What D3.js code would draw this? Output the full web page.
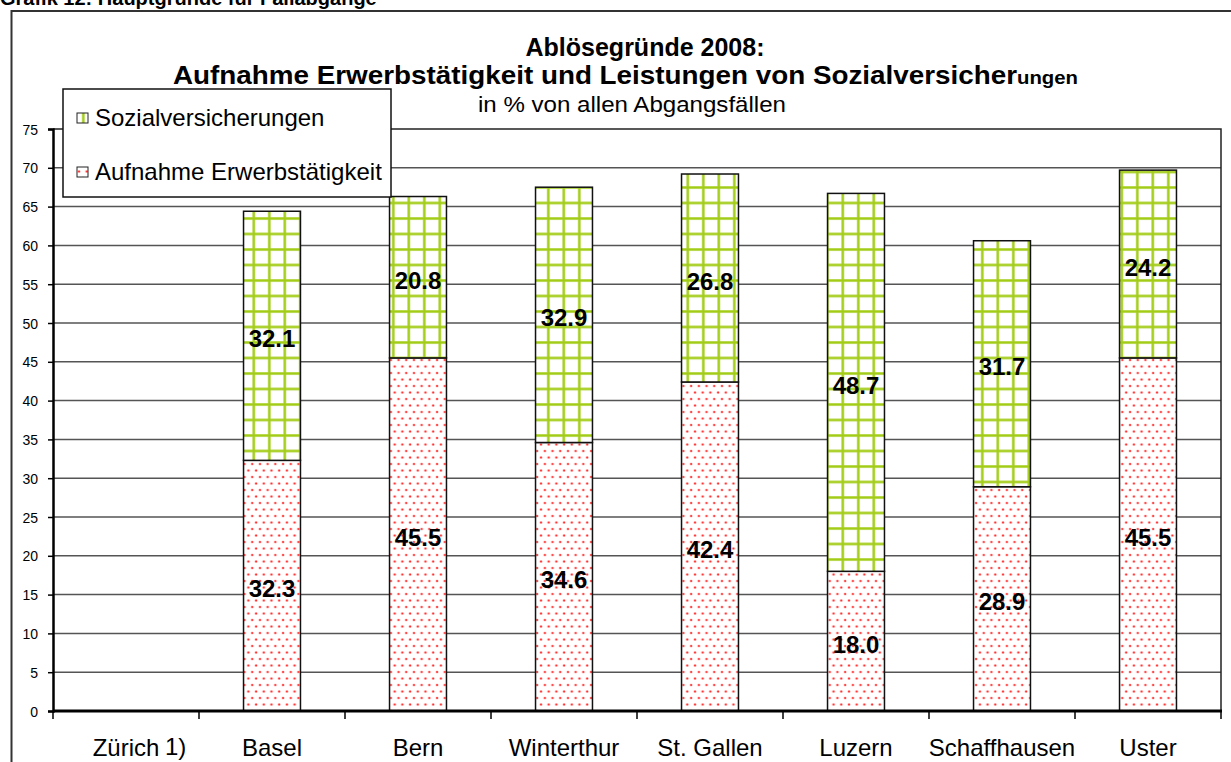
<!DOCTYPE html>
<html>
<head>
<meta charset="utf-8">
<script src="https://cdn.jsdelivr.net/npm/d3@7"></script>
<style>
  html, body { margin: 0; padding: 0; background: #fff; }
  svg { display: block; }
  text { font-family: "Liberation Sans", Arial, sans-serif; }
</style>
</head>
<body>
<svg id="chart" width="1231" height="762"></svg>
<script>
// ---- data ----
const categories = ["Zürich", "Basel", "Bern", "Winterthur", "St. Gallen", "Luzern", "Schaffhausen", "Uster"];
const categoryNotes = ["1)", "", "", "", "", "", "", ""];
const erwerbstaetigkeit = [null, 32.3, 45.5, 34.6, 42.4, 18.0, 28.9, 45.5];
const sozialversicherungen = [null, 32.1, 20.8, 32.9, 26.8, 48.7, 31.7, 24.2];
const seriesNames = ["Aufnahme Erwerbstätigkeit", "Sozialversicherungen"];
const yTicks = [0, 5, 10, 15, 20, 25, 30, 35, 40, 45, 50, 55, 60, 65, 70, 75];
const pageTitle = "Grafik 12: Hauptgründe für Fallabgänge";
const titleLine1 = "Ablösegründe 2008:";
const titleLine2 = "Aufnahme Erwerbstätigkeit und Leistungen von Sozialversicher";
const titleLine2Tail = "ungen";
const subtitle = "in % von allen Abgangsfällen";

// ---- layout ----
const svg = d3.select("#chart");
const plot = { left: 53, right: 1221, top: 129, bottom: 711 };

const x = d3.scaleBand().domain(categories)
  .range([plot.left, plot.right]).paddingInner(0.61).paddingOuter(0.305);
const y = d3.scaleLinear().domain([0, 75]).range([plot.bottom, plot.top]);
const step = (plot.right - plot.left) / categories.length;

// patterns
const defs = svg.append("defs");
const pg = defs.append("pattern").attr("id", "grid").attr("patternUnits", "userSpaceOnUse")
  .attr("width", 15.5).attr("height", 15.5).attr("x", 4.3).attr("y", 0);
pg.append("rect").attr("width", 15.5).attr("height", 15.5).attr("fill", "#fff");
pg.append("rect").attr("x", 0).attr("y", 0).attr("width", 3).attr("height", 15.5).attr("fill", "#cfe68a");
pg.append("rect").attr("x", 0).attr("y", 0).attr("width", 15.5).attr("height", 3).attr("fill", "#cfe68a");
pg.append("rect").attr("x", 0.5).attr("y", 0).attr("width", 2).attr("height", 15.5).attr("fill", "#a2cc14");
pg.append("rect").attr("x", 0).attr("y", 0.5).attr("width", 15.5).attr("height", 2).attr("fill", "#a2cc14");

const pd = defs.append("pattern").attr("id", "dots").attr("patternUnits", "userSpaceOnUse")
  .attr("width", 7.7).attr("height", 13).attr("x", 0).attr("y", 0);
pd.append("rect").attr("width", 7.7).attr("height", 13).attr("fill", "#fff");
[[2, 2.5], [5.85, 9]].forEach(([cx, cy]) => {
  pd.append("circle").attr("cx", cx).attr("cy", cy).attr("r", 1.6).attr("fill", "#ffc4c4");
  pd.append("circle").attr("cx", cx).attr("cy", cy).attr("r", 1.0).attr("fill", "#ff3030");
});
const fills = ["url(#dots)", "url(#grid)"];

// page title (cropped at top, as in the reference)
svg.append("text").attr("x", 0).attr("y", 5).attr("font-size", 20).attr("font-weight", "bold")
  .attr("fill", "#000").text(pageTitle);

// outer frame
svg.append("rect").attr("x", 11.5).attr("y", 11).attr("width", 1240).attr("height", 800)
  .attr("fill", "none").attr("stroke", "#333").attr("stroke-width", 2);

// gridlines
svg.append("g").selectAll("line").data(yTicks.filter(d => d > 0 && d < 75)).join("line")
  .attr("x1", plot.left).attr("x2", plot.right)
  .attr("y1", d => y(d)).attr("y2", d => y(d))
  .attr("stroke", "#555").attr("stroke-width", 1.5);
// plot border top/right
svg.append("path")
  .attr("d", `M${plot.left},${y(75)}H${plot.right}V${plot.bottom}`)
  .attr("fill", "none").attr("stroke", "#222").attr("stroke-width", 1.5);

// stacked bars
const rows = categories.map((c, i) => ({ cat: c, e: erwerbstaetigkeit[i] || 0, s: sozialversicherungen[i] || 0, has: erwerbstaetigkeit[i] != null }));
const stack = d3.stack().keys(["e", "s"])(rows);
const gBars = svg.append("g");
stack.forEach((layer, li) => {
  gBars.append("g").selectAll("rect").data(layer.filter(d => d.data.has)).join("rect")
    .attr("x", d => x(d.data.cat))
    .attr("width", x.bandwidth())
    .attr("y", d => y(d[1]))
    .attr("height", d => y(d[0]) - y(d[1]))
    .attr("fill", fills[li])
    .attr("stroke", "#111").attr("stroke-width", 1.5);
});
// value labels
stack.forEach((layer) => {
  svg.append("g").selectAll("text").data(layer.filter(d => d.data.has)).join("text")
    .attr("x", d => x(d.data.cat) + x.bandwidth() / 2)
    .attr("y", d => y((d[0] + d[1]) / 2))
    .attr("dy", "0.48em")
    .attr("text-anchor", "middle")
    .attr("font-size", 24).attr("font-weight", "bold").attr("fill", "#000")
    .text(d => d3.format(".1f")(d[1] - d[0]));
});

// y axis
const yAxis = svg.append("g").attr("transform", `translate(${plot.left},0)`)
  .call(d3.axisLeft(y).tickValues(yTicks).tickSize(5).tickPadding(10).tickFormat(d3.format("d")));
yAxis.select(".domain").attr("stroke", "#000").attr("stroke-width", 2.5);
yAxis.selectAll(".tick line").attr("stroke", "#000").attr("stroke-width", 1.5);
yAxis.selectAll(".tick text").attr("font-size", 14).attr("fill", "#000")
  .attr("font-family", "'Liberation Sans', Arial, sans-serif").attr("dy", "0.36em");

// x axis
const xAxis = svg.append("g").attr("transform", `translate(0,${plot.bottom})`);
xAxis.append("line").attr("x1", plot.left).attr("x2", plot.right + 1)
  .attr("stroke", "#000").attr("stroke-width", 3);
xAxis.selectAll(".xt").data(d3.range(categories.length + 1)).join("line").attr("class", "xt")
  .attr("x1", i => plot.left + i * step).attr("x2", i => plot.left + i * step)
  .attr("y1", 0).attr("y2", 8).attr("stroke", "#000").attr("stroke-width", 1.5);
xAxis.selectAll(".xl").data(categories).join("text").attr("class", "xl")
  .attr("x", d => x(d) + x.bandwidth() / 2).attr("y", 45)
  .attr("text-anchor", "middle").attr("font-size", 24).attr("fill", "#000")
  .text(d => d);
xAxis.selectAll(".xn").data(categories.filter((d, i) => categoryNotes[i])).join("text").attr("class", "xn")
  .attr("x", d => x(d) + x.bandwidth() / 2 + 39).attr("y", 44)
  .attr("font-size", 24).attr("fill", "#000")
  .text(d => categoryNotes[categories.indexOf(d)]);

// titles
svg.append("text").attr("x", 645).attr("y", 56).attr("text-anchor", "middle")
  .attr("font-size", 25).attr("font-weight", "bold").text(titleLine1);
const t2 = svg.append("text").attr("x", 173).attr("y", 84)
  .attr("font-size", 26).attr("font-weight", "bold")
  .attr("textLength", 905).attr("lengthAdjust", "spacingAndGlyphs");
t2.append("tspan").text(titleLine2);
t2.append("tspan").attr("font-size", 19).text(titleLine2Tail);
svg.append("text").attr("x", 478).attr("y", 112)
  .attr("font-size", 22).attr("textLength", 308).attr("lengthAdjust", "spacingAndGlyphs")
  .text(subtitle);

// legend
const lg = svg.append("g");
lg.append("rect").attr("x", 63).attr("y", 89).attr("width", 328).attr("height", 108)
  .attr("fill", "#fff").attr("stroke", "#111").attr("stroke-width", 1.5);
const legendItems = [
  { name: seriesNames[1], fill: fills[1], y: 126 },
  { name: seriesNames[0], fill: fills[0], y: 180 }
];
legendItems.forEach(it => {
  lg.append("rect").attr("x", 77).attr("y", it.y - 13).attr("width", 11).attr("height", 10)
    .attr("fill", it.fill).attr("stroke", "#222").attr("stroke-width", 1);
  lg.append("text").attr("x", 95).attr("y", it.y).attr("font-size", 24).attr("fill", "#000").text(it.name);
});
</script>
</body>
</html>
